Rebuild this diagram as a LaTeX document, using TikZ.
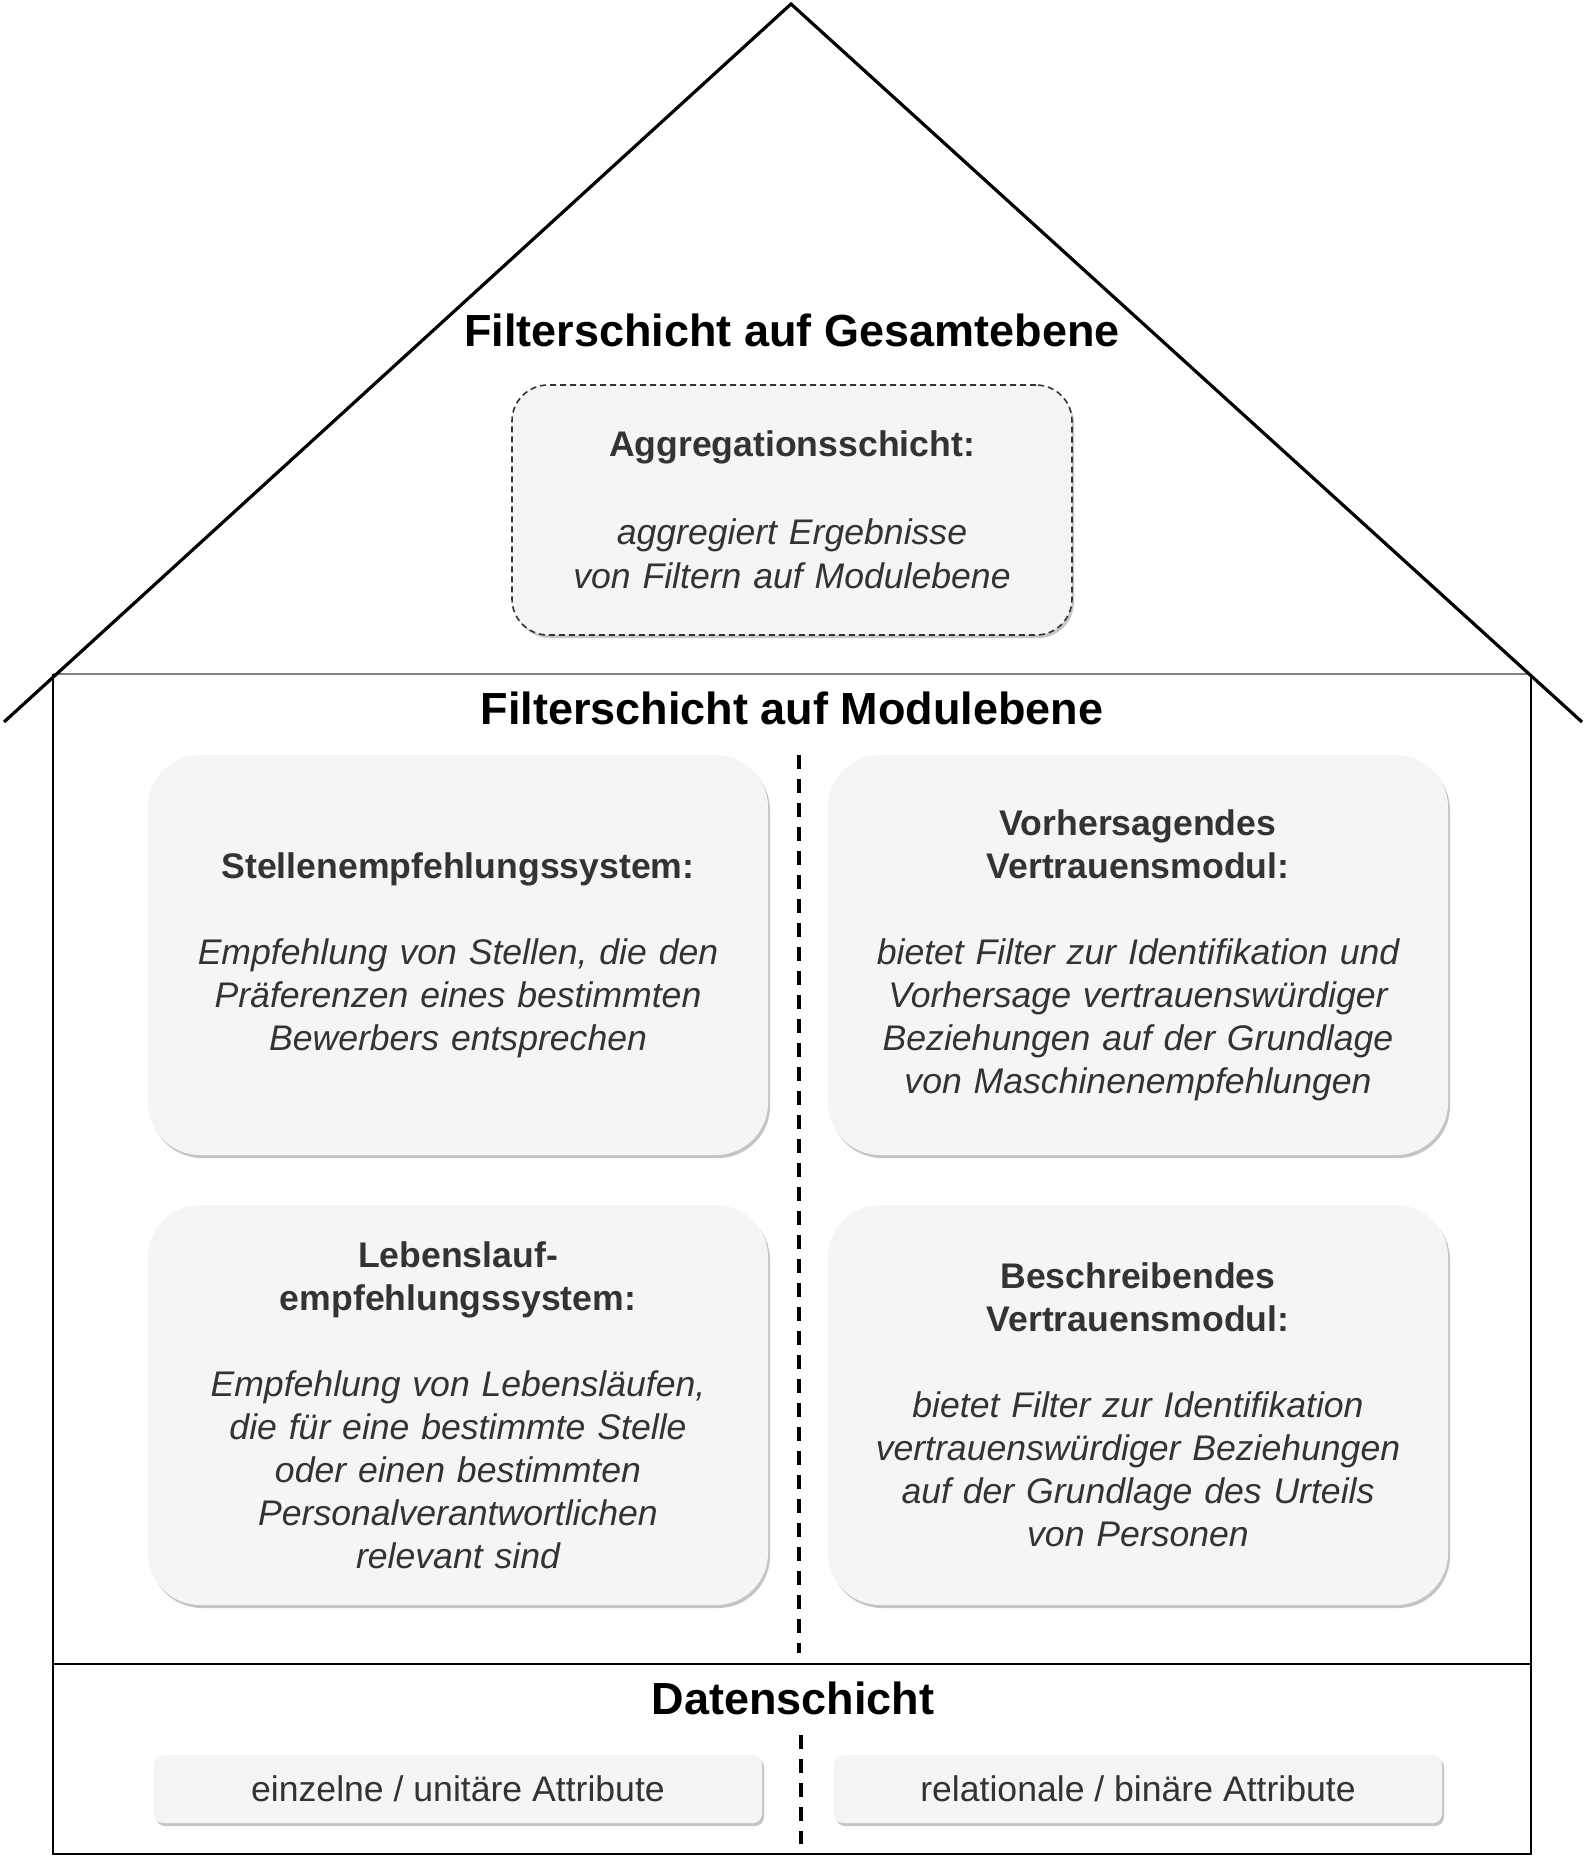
\documentclass[tikz,border=0pt]{standalone}
\usepackage{fontspec}
\setmainfont{Liberation Sans}
\usetikzlibrary{shadows}
\definecolor{boxfill}{HTML}{F5F5F5}
\definecolor{boxtext}{HTML}{333333}
\definecolor{shadowgray}{HTML}{C4C4C4}

\begin{document}
\begin{tikzpicture}[x=1pt, y=-1pt,
  layertitle/.style={font=\fontsize{45}{54}\selectfont\bfseries, text=black},
  modbox/.style={fill=boxfill, rounded corners=52pt, minimum width=620pt,
    minimum height=400pt, text width=590pt, align=center, text=boxtext,
    font=\fontsize{35.6}{43}\selectfont,
    drop shadow={shadow xshift=2pt, shadow yshift=-3pt, fill=shadowgray, opacity=1}},
  aggrbox/.style={fill=boxfill, draw=boxtext, line width=1.6pt,
    dash pattern=on 6pt off 4pt, rounded corners=36pt, minimum width=560pt,
    minimum height=250pt, text width=540pt, align=center, text=boxtext,
    font=\fontsize{35.6}{44}\selectfont,
    drop shadow={shadow xshift=2pt, shadow yshift=-3pt, fill=shadowgray, opacity=1}},
  databox/.style={fill=boxfill, rounded corners=9pt, minimum width=608pt,
    minimum height=68pt, text=boxtext, font=\fontsize{35.6}{43}\selectfont,
    drop shadow={shadow xshift=2pt, shadow yshift=-3pt, fill=shadowgray, opacity=1}},
  sepline/.style={line width=4pt, dash pattern=on 14pt off 10pt}]
\useasboundingbox (0,0) rectangle (1587,1856);
% roof and house outline
\coordinate (roofL) at (4,722);
\coordinate (roofT) at (791,4);
\coordinate (roofR) at (1582,722);
\coordinate (houseTL) at (53,674);
\coordinate (houseTR) at (1531,674);
\coordinate (houseBL) at (53,1854);
\coordinate (houseBR) at (1531,1854);
\coordinate (dataL) at (53,1664);
\coordinate (dataR) at (1531,1664);
\draw[gray, line width=1.2pt] (houseTL) -- (houseTR);
\draw[line width=1.2pt] (houseTL) -- (houseBL) -- (houseBR) -- (houseTR);
\draw[line width=1.2pt] (dataL) -- (dataR);
\draw[line width=3.2pt] (roofL) -- (roofT) -- (roofR);
% layer titles
\node[layertitle] (tGesamt) at (792,330) {Filterschicht auf Gesamtebene};
\node[layertitle] (tModul) at (792,708) {Filterschicht auf Modulebene};
\node[layertitle] (tDaten) at (793,1698) {Datenschicht};
% aggregation layer
\node[aggrbox] (aggr) at (792,510) {{\bfseries Aggregationsschicht:}\\[44pt]
  \itshape aggregiert Ergebnisse\\ von Filtern auf Modulebene};
% module layer
\coordinate (sepTop) at (799,755);
\coordinate (sepBot) at (799,1653);
\draw[sepline] (sepTop) -- (sepBot);
\node[modbox] (stellen) at (458,955) {{\bfseries Stellenempfehlungssystem:}\\[43pt]
  \itshape Empfehlung von Stellen, die den\\ Präferenzen eines bestimmten\\ Bewerbers entsprechen};
\node[modbox] (vorhers) at (1138,955) {{\bfseries Vorhersagendes\\ Vertrauensmodul:}\\[43pt]
  \itshape bietet Filter zur Identifikation und\\ Vorhersage vertrauenswürdiger\\
  Beziehungen auf der Grundlage\\ von Maschinenempfehlungen};
\node[modbox] (lebensl) at (458,1405) {{\bfseries Lebenslauf-\\ empfehlungssystem:}\\[43pt]
  \itshape Empfehlung von Lebensläufen,\\ die für eine bestimmte Stelle\\
  oder einen bestimmten\\ Personalverantwortlichen\\ relevant sind};
\node[modbox] (beschr) at (1138,1405) {{\bfseries Beschreibendes\\ Vertrauensmodul:}\\[43pt]
  \itshape bietet Filter zur Identifikation\\ vertrauenswürdiger Beziehungen\\
  auf der Grundlage des Urteils\\ von Personen};
% data layer
\coordinate (dsepTop) at (801,1735);
\coordinate (dsepBot) at (801,1844);
\draw[sepline] (dsepTop) -- (dsepBot);
\node[databox] (einzel) at (458,1789) {einzelne / unitäre Attribute};
\node[databox] (relat) at (1138,1789) {relationale / binäre Attribute};
\end{tikzpicture}
\end{document}
